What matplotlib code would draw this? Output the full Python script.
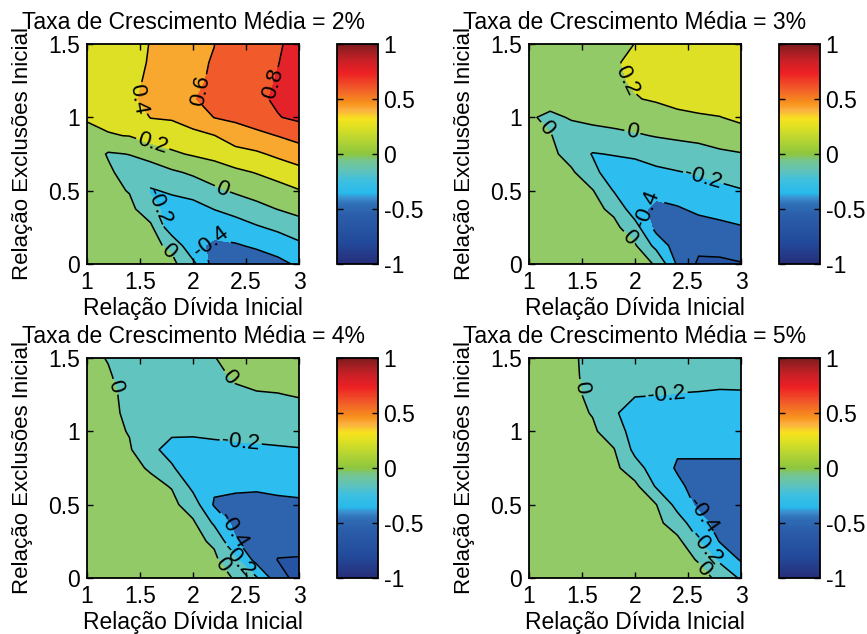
import matplotlib
matplotlib.use('Agg')
import matplotlib.pyplot as plt
import numpy as np
from matplotlib.colors import LinearSegmentedColormap, Normalize
from matplotlib.cm import ScalarMappable

plt.rcParams['font.family'] = ['Liberation Sans', 'DejaVu Sans']
plt.rcParams['font.size'] = 16.5
plt.rcParams['contour.negative_linestyle'] = 'solid'

# Grid of the simulations
divida_inicial = [1.0, 1.2, 1.4, 1.6, 1.8, 2.0, 2.2, 2.4, 2.6, 2.8, 3.0]
exclusoes_inicial = [0.0, 0.125, 0.25, 0.375, 0.5, 0.625, 0.75, 0.875,
                     1.0, 1.125, 1.25, 1.375, 1.5]

# One list per value of "Relação Dívida Inicial", running up the exclusion axis
taxa_2 = [
    [0.05, 0.05, 0.06, 0.07, 0.09, 0.11, 0.14, 0.17, 0.21, 0.26, 0.30, 0.33, 0.36],
    [0.05, 0.05, 0.05, 0.05, 0.05, 0.04, -0.02, 0.19, 0.24, 0.28, 0.32, 0.35, 0.37],
    [0.05, 0.05, 0.05, 0.05, -0.01, -0.10, 0.005, 0.205, 0.30, 0.38, 0.37, 0.36, 0.35],
    [0.05, 0.05, 0.04, -0.12, -0.22, -0.08, 0.06, 0.30, 0.405, 0.43, 0.42, 0.41, 0.405],
    [0.05, -0.04, -0.33, -0.30, -0.17, -0.03, 0.17, 0.30, 0.42, 0.48, 0.50, 0.50, 0.50],
    [-0.15, -0.36, -0.38, -0.28, -0.12, 0.03, 0.22, 0.36, 0.47, 0.59, 0.58, 0.57, 0.56],
    [-0.48, -0.43, -0.34, -0.195, -0.04, 0.10, 0.26, 0.395, 0.605, 0.65, 0.615, 0.61, 0.598],
    [-0.50, -0.42, -0.28, -0.14, 0.03, 0.16, 0.33, 0.50, 0.64, 0.68, 0.69, 0.70, 0.70],
    [-0.52, -0.37, -0.22, -0.06, 0.08, 0.21, 0.37, 0.55, 0.70, 0.76, 0.75, 0.74, 0.73],
    [-0.45, -0.32, -0.16, 0.005, 0.13, 0.27, 0.44, 0.605, 0.79, 0.83, 0.81, 0.795, 0.78],
    [-0.37, -0.24, -0.09, 0.06, 0.19, 0.34, 0.50, 0.67, 0.84, 0.88, 0.88, 0.87, 0.86],
]

taxa_3 = [
    [0.05, 0.05, 0.05, 0.05, 0.05, 0.05, 0.05, 0.05, 0.03, 0.07, 0.08, 0.09, 0.10],
    [0.05, 0.05, 0.05, 0.05, 0.05, 0.05, 0.05, 0.01, -0.05, 0.10, 0.12, 0.13, 0.14],
    [0.05, 0.05, 0.05, 0.05, 0.05, 0.03, -0.08, -0.10, 0.02, 0.12, 0.14, 0.15, 0.16],
    [0.05, 0.05, 0.05, 0.05, 0.01, -0.15, -0.21, -0.07, 0.05, 0.13, 0.15, 0.16, 0.18],
    [0.05, 0.05, 0.05, -0.04, -0.21, -0.30, -0.19, -0.04, 0.06, 0.14, 0.17, 0.19, 0.18],
    [0.05, 0.02, -0.12, -0.32, -0.39, -0.28, -0.17, -0.02, 0.09, 0.19, 0.22, 0.22, 0.201],
    [-0.01, -0.26, -0.47, -0.46, -0.33, -0.24, -0.12, 0.01, 0.11, 0.22, 0.25, 0.26, 0.26],
    [-0.43, -0.50, -0.52, -0.42, -0.30, -0.21, -0.09, 0.03, 0.16, 0.25, 0.28, 0.29, 0.29],
    [-0.63, -0.56, -0.48, -0.36, -0.27, -0.18, -0.07, 0.05, 0.18, 0.27, 0.30, 0.31, 0.32],
    [-0.63, -0.55, -0.44, -0.34, -0.24, -0.15, -0.03, 0.08, 0.195, 0.29, 0.32, 0.33, 0.34],
    [-0.61, -0.52, -0.41, -0.32, -0.21, -0.12, -0.01, 0.12, 0.24, 0.30, 0.33, 0.35, 0.36],
]

taxa_4 = [
    [0.05, 0.05, 0.05, 0.05, 0.05, 0.05, 0.05, 0.05, 0.05, 0.05, 0.05, 0.05, 0.05],
    [0.05, 0.05, 0.05, 0.05, 0.05, 0.05, 0.05, 0.05, 0.05, 0.05, 0.05, 0.02, -0.01],
    [0.05, 0.05, 0.05, 0.05, 0.05, 0.05, 0.05, 0.02, -0.01, -0.04, -0.06, -0.08, -0.10],
    [0.05, 0.05, 0.05, 0.05, 0.05, 0.05, -0.02, -0.16, -0.12, -0.10, -0.10, -0.10, -0.10],
    [0.05, 0.05, 0.05, 0.05, 0.05, -0.01, -0.18, -0.26, -0.17, -0.12, -0.11, -0.10, -0.10],
    [0.05, 0.05, 0.05, 0.03, -0.10, -0.25, -0.32, -0.27, -0.17, -0.12, -0.10, -0.09, -0.07],
    [0.05, 0.04, -0.03, -0.23, -0.42, -0.37, -0.33, -0.25, -0.16, -0.10, -0.07, -0.04, -0.005],
    [-0.01, -0.17, -0.38, -0.46, -0.45, -0.37, -0.32, -0.24, -0.15, -0.08, -0.03, 0.02, 0.05],
    [-0.18, -0.47, -0.53, -0.52, -0.47, -0.37, -0.30, -0.23, -0.14, -0.06, -0.01, 0.04, 0.07],
    [-0.53, -0.605, -0.55, -0.50, -0.44, -0.36, -0.29, -0.22, -0.13, -0.05, -0.005, 0.05, 0.08],
    [-0.66, -0.61, -0.55, -0.49, -0.43, -0.35, -0.28, -0.21, -0.12, -0.05, 0.01, 0.06, 0.09],
]

taxa_5 = [
    [0.05, 0.05, 0.05, 0.05, 0.05, 0.05, 0.05, 0.05, 0.05, 0.05, 0.05, 0.05, 0.05],
    [0.05, 0.05, 0.05, 0.05, 0.05, 0.05, 0.05, 0.05, 0.05, 0.05, 0.05, 0.05, 0.05],
    [0.05, 0.05, 0.05, 0.05, 0.05, 0.05, 0.05, 0.05, 0.05, 0.05, 0.05, 0.05, 0.05],
    [0.05, 0.05, 0.05, 0.05, 0.05, 0.05, 0.05, 0.05, 0.03, -0.01, -0.05, -0.08, -0.10],
    [0.05, 0.05, 0.05, 0.05, 0.05, 0.05, 0.05, 0.01, -0.10, -0.18, -0.17, -0.13, -0.12],
    [0.05, 0.05, 0.05, 0.05, 0.05, 0.05, -0.12, -0.25, -0.28, -0.27, -0.19, -0.14, -0.12],
    [0.05, 0.05, 0.05, 0.05, 0.005, -0.22, -0.30, -0.32, -0.33, -0.30, -0.195, -0.15, -0.13],
    [0.05, 0.05, 0.05, -0.10, -0.27, -0.36, -0.42, -0.38, -0.35, -0.31, -0.205, -0.15, -0.13],
    [0.05, -0.01, -0.19, -0.33, -0.44, -0.47, -0.42, -0.38, -0.35, -0.31, -0.21, -0.15, -0.13],
    [-0.03, -0.24, -0.41, -0.47, -0.50, -0.50, -0.43, -0.37, -0.34, -0.30, -0.22, -0.15, -0.12],
    [-0.23, -0.42, -0.50, -0.53, -0.54, -0.52, -0.44, -0.36, -0.33, -0.29, -0.22, -0.14, -0.11],
]

taxas = ['2%', '3%', '4%', '5%']

niveis = [-1.0, -0.8, -0.6, -0.4, -0.2, 0.0, 0.2, 0.4, 0.6, 0.8, 1.0]
cores_faixas = ['#243c8c', '#2654a5', '#2e64ae', '#2dbdee', '#61c4be',
                '#93ca68', '#dde024', '#f8a82e', '#f15a2b', '#e3222a']

# label positions (x, y) for each panel
rotulos = [
    [(1.47, 1.12), (2.08, 1.18), (2.8, 1.22), (1.62, 0.82), (2.27, 0.5),
     (1.62, 0.37), (2.12, 0.2), (1.78, 0.1)],
    [(1.9, 1.25), (1.22, 0.96), (1.97, 0.88), (2.65, 0.6), (2.05, 0.36),
     (1.93, 0.17)],
    [(1.25, 1.3), (2.33, 1.36), (2.45, 0.93), (2.38, 0.33), (2.45, 0.14),
     (2.28, 0.09)],
    [(1.48, 1.3), (2.3, 1.24), (2.62, 0.42), (2.66, 0.2), (2.66, 0.07)],
]

cmap_barra = LinearSegmentedColormap.from_list('barra', [
    (0.00, '#262e7a'), (0.10, '#234a9c'), (0.22, '#2b5eaa'), (0.27, '#2f6eb5'),
    (0.30, '#3b8fcf'), (0.32, '#27b9ec'), (0.38, '#3fc0e0'), (0.42, '#5ec2bc'),
    (0.47, '#76c58e'), (0.50, '#8dc63f'), (0.56, '#b3d334'), (0.62, '#dbe023'),
    (0.66, '#f7e21e'), (0.70, '#fbb040'), (0.73, '#f7941d'), (0.80, '#f15a29'),
    (0.87, '#ed2024'), (0.93, '#c62027'), (1.00, '#7e1c1e')])

posicoes = [(87, 44), (529, 44), (87, 358), (529, 358)]
W, H = 867, 634

fig = plt.figure(figsize=(W / 100, H / 100), dpi=100)
X, Y = np.meshgrid(divida_inicial, exclusoes_inicial)

for dados, taxa, (px, py), labels in zip([taxa_2, taxa_3, taxa_4, taxa_5],
                                         taxas, posicoes, rotulos):
    Z = np.array(dados).T
    ax = fig.add_axes([px / W, 1 - (py + 220) / H, 212 / W, 220 / H])
    ax.contourf(X, Y, Z, levels=niveis, colors=cores_faixas)
    cs = ax.contour(X, Y, Z, levels=niveis, colors='k', linewidths=1.1)
    ax.clabel(cs, fmt='%g', fontsize=16, inline=True, inline_spacing=2,
              manual=labels)

    ax.set_xlim(1, 3)
    ax.set_ylim(0, 1.5)
    ax.set_xticks([1, 1.5, 2, 2.5, 3])
    ax.set_xticklabels(['1', '1.5', '2', '2.5', '3'])
    ax.set_yticks([0, 0.5, 1, 1.5])
    ax.set_yticklabels(['0', '0.5', '1', '1.5'])
    ax.tick_params(direction='in', top=True, right=True, length=4, width=1,
                   pad=5)
    for s in ax.spines.values():
        s.set_linewidth(1.3)

    ax.set_title(f'Taxa de Crescimento Média = {taxa}', pad=11,
                 fontsize=16.5)
    ax.set_xlabel('Relação Dívida Inicial')
    ax.set_ylabel('Relação Exclusões Inicial', fontsize=16)
    ax.xaxis.set_label_coords(0.5, -0.15)
    ax.yaxis.set_label_coords(-0.255, 0.5)

    cax = fig.add_axes([(px + 250) / W, 1 - (py + 220) / H, 41 / W, 220 / H])
    cb = fig.colorbar(ScalarMappable(norm=Normalize(-1, 1), cmap=cmap_barra),
                      cax=cax, ticks=[-1, -0.5, 0, 0.5, 1])
    cb.set_ticklabels(['-1', '-0.5', '0', '0.5', '1'])
    cb.ax.tick_params(direction='in', left=True, right=True, length=4,
                      width=1, pad=4)
    cb.outline.set_linewidth(1.3)

fig.savefig('out.png', dpi=100)
